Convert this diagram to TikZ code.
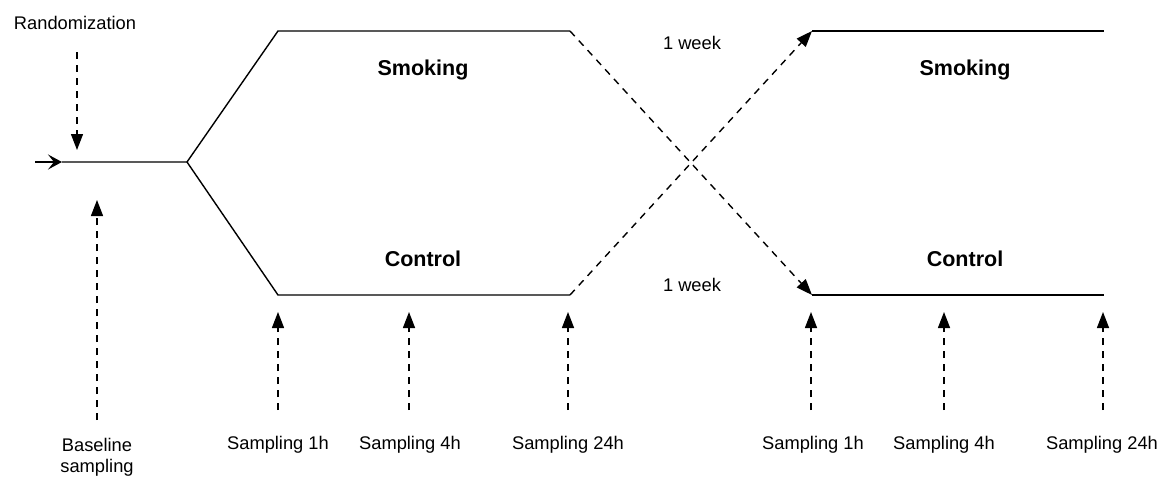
\documentclass[tikz,border=0pt]{standalone}
\usepackage{fontspec}
\setmainfont{Liberation Sans}
\usetikzlibrary{arrows.meta}

\begin{document}
\begin{tikzpicture}[x=1pt, y=-1pt, line width=1.4pt,
  dashline/.style={dash pattern=on 7pt off 6pt},
  tip/.style={-{Triangle[length=16pt, width=12pt]}},
  lbl/.style={font=\fontsize{18.3}{21}\selectfont, inner sep=0pt, align=center},
  arm/.style={font=\bfseries\fontsize{21.5}{24}\selectfont, inner sep=0pt}]
\useasboundingbox (0,0) rectangle (1163,479);

% main path
\coordinate (start) at (35,162);
\coordinate (entry) at (62,162);
\coordinate (split) at (187,162);
\coordinate (s1) at (278,31);
\coordinate (s2) at (570,31);
\coordinate (c1) at (278,295);
\coordinate (c2) at (570,295);
\coordinate (s3) at (812,31);
\coordinate (s4) at (1104,31);
\coordinate (c3) at (812,295);
\coordinate (c4) at (1104,295);

\draw[-{Stealth[length=14pt, width=15pt, inset=6pt]}] (start) -- (entry);
\draw (entry) -- (split) -- (s1) -- (s2);
\draw (split) -- (c1) -- (c2);
\draw (s3) -- (s4);
\draw (c3) -- (c4);

% crossover
\draw[dashline, tip] (s2) -- (c3);
\draw[dashline, tip] (c2) -- (s3);
\node[lbl] (wk1) at (692,43) {1 week};
\node[lbl] (wk2) at (692,285) {1 week};

% arms
\node[arm] (smk1) at (423,70) {Smoking};
\node[arm] (ctl1) at (423,259) {Control};
\node[arm] (smk2) at (965,70) {Smoking};
\node[arm] (ctl2) at (965,259) {Control};

% randomization
\node[lbl] (rand) at (75,23) {Randomization};
\coordinate (randA) at (77,52);
\coordinate (randB) at (77,150);
\draw[dashline, tip] (randA) -- (randB);

% baseline
\node[lbl] (base) at (97,457) {Baseline\\sampling};
\coordinate (baseA) at (97,420);
\coordinate (baseB) at (97,200);
\draw[dashline, tip] (baseA) -- (baseB);

% sampling times
\coordinate (p1) at (278,410);
\coordinate (q1) at (278,312);
\draw[dashline, tip] (p1) -- (q1);
\node[lbl] (l1) at (278,445) {Sampling 1h};

\coordinate (p2) at (409,410);
\coordinate (q2) at (409,312);
\draw[dashline, tip] (p2) -- (q2);
\node[lbl] (l2) at (410,445) {Sampling 4h};

\coordinate (p3) at (568,410);
\coordinate (q3) at (568,312);
\draw[dashline, tip] (p3) -- (q3);
\node[lbl] (l3) at (568,445) {Sampling 24h};

\coordinate (p4) at (811,410);
\coordinate (q4) at (811,312);
\draw[dashline, tip] (p4) -- (q4);
\node[lbl] (l4) at (813,445) {Sampling 1h};

\coordinate (p5) at (944,410);
\coordinate (q5) at (944,312);
\draw[dashline, tip] (p5) -- (q5);
\node[lbl] (l5) at (944,445) {Sampling 4h};

\coordinate (p6) at (1103,410);
\coordinate (q6) at (1103,312);
\draw[dashline, tip] (p6) -- (q6);
\node[lbl] (l6) at (1102,445) {Sampling 24h};
\end{tikzpicture}
\end{document}
